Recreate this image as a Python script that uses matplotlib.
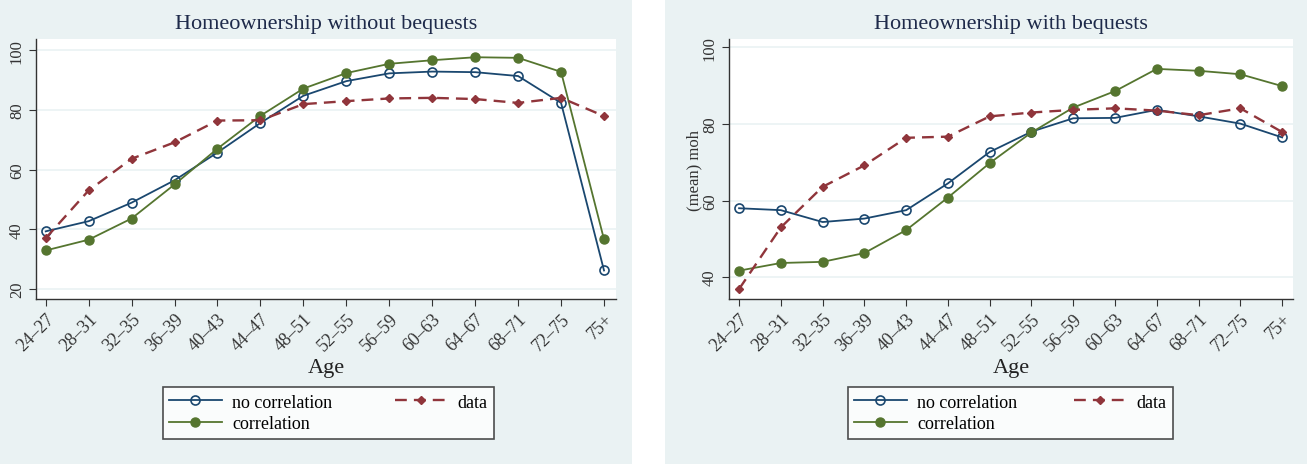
import matplotlib.pyplot as plt
from matplotlib.patches import Rectangle

ages = ["24\u201327", "28\u201331", "32\u201335", "36\u201339", "40\u201343", "44\u201347",
        "48\u201351", "52\u201355", "56\u201359", "60\u201363", "64\u201367", "68\u201371",
        "72\u201375", "75+"]

# without bequests
nocorr_nb = [39.3, 42.7, 48.9, 56.4, 65.7, 75.6, 84.7, 89.6, 92.2, 92.8, 92.6, 91.3, 82.3, 26.2]
corr_nb = [32.9, 36.5, 43.6, 55.0, 67.0, 78.0, 87.1, 92.3, 95.4, 96.6, 97.6, 97.4, 92.7, 36.6]
data_nb = [37.0, 53.0, 63.6, 69.1, 76.4, 76.5, 81.9, 82.9, 83.8, 84.0, 83.6, 82.3, 84.0, 77.9]

# with bequests
nocorr_b = [58.0, 57.5, 54.4, 55.3, 57.5, 64.5, 72.7, 78.0, 81.5, 81.6, 83.7, 82.0, 80.1, 76.5]
corr_b = [41.7, 43.7, 44.0, 46.3, 52.3, 60.8, 69.8, 77.8, 84.3, 88.6, 94.4, 93.9, 93.0, 89.9]
data_b = [36.9, 53.0, 63.6, 69.2, 76.4, 76.7, 82.0, 83.0, 83.7, 84.1, 83.5, 82.3, 84.1, 77.9]

BG = "#eaf2f3"
NAVY = "#1a476f"
MAROON = "#90353b"
GREEN = "#55752f"

plt.rcParams["font.family"] = ["Liberation Serif", "DejaVu Serif"]

fig = plt.figure(figsize=(13.07, 4.77), dpi=100)
fig.patch.set_facecolor("white")
fig.patches.append(Rectangle((0, 0.025), 0.4836, 0.975, transform=fig.transFigure,
                             facecolor=BG, edgecolor="none", zorder=-10))
fig.patches.append(Rectangle((0.5088, 0.025), 0.4912, 0.975, transform=fig.transFigure,
                             facecolor=BG, edgecolor="none", zorder=-10))

panels = [
    dict(rect=[0.02754, 0.3711, 0.4438, 0.545], title="Homeownership without bequests",
         nc=nocorr_nb, c=corr_nb, d=data_nb, ylim=(16.65, 103.7), yt=[20, 40, 60, 80, 100],
         ylabel="", xlim=(-0.226, 13.28), leg=[0.1247, 0.0713, 0.2533, 0.1216]),
    dict(rect=[0.5578, 0.3711, 0.4315, 0.545], title="Homeownership with bequests",
         nc=nocorr_b, c=corr_b, d=data_b, ylim=(34.3, 102.2), yt=[40, 60, 80, 100],
         ylabel="(mean) moh", xlim=(-0.24, 13.26), leg=[0.6488, 0.0713, 0.2487, 0.1216]),
]

x = list(range(len(ages)))
for p in panels:
    ax = fig.add_axes(p["rect"])
    ax.set_facecolor("white")
    ax.plot(x, p["nc"], color=NAVY, lw=1.3, marker="o", ms=6.5, mfc="none", mew=1.2,
            label="no correlation")
    ax.plot(x, p["c"], color=GREEN, lw=1.3, marker="o", ms=6.5, mfc=GREEN, mec=GREEN,
            label="correlation")
    ax.plot(x, p["d"], color=MAROON, lw=1.7, ls=(0, (5, 3)), marker="D", ms=4.5,
            mfc=MAROON, mec=MAROON, label="data")
    ax.set_xlim(*p["xlim"])
    ax.set_ylim(*p["ylim"])
    ax.set_yticks(p["yt"])
    ax.set_yticklabels([str(v) for v in p["yt"]], rotation=90, va="center", fontsize=12,
                       color="#333333")
    ax.set_xticks(x)
    ax.set_xticklabels(ages, rotation=45, ha="right", rotation_mode="anchor", fontsize=13,
                       color="#333333")
    ax.grid(axis="y", color=BG, lw=1.2)
    ax.set_axisbelow(True)
    for s in ["top", "right"]:
        ax.spines[s].set_visible(False)
    for s in ["left", "bottom"]:
        ax.spines[s].set_color("#333333")
        ax.spines[s].set_linewidth(1.0)
    ax.tick_params(color="#333333", length=5, pad=3)
    ax.set_xlabel("Age", fontsize=16, color="#222222", labelpad=3)
    if p["ylabel"]:
        ax.set_ylabel(p["ylabel"], fontsize=12, color="#333333", labelpad=0)
    ax.set_title(p["title"], fontsize=16, color="#1e2a4a", pad=8)

    h, l = ax.get_legend_handles_labels()
    leg = fig.legend(h, l, ncol=2, loc="center", bbox_to_anchor=p["leg"],
                     mode="expand", fontsize=13, frameon=True, fancybox=False,
                     edgecolor="#222222", handlelength=2.9, handletextpad=0.6,
                     columnspacing=1.5, borderaxespad=0, labelspacing=0.25,
                     borderpad=0.35)
    leg.get_frame().set_linewidth(1.2)

fig.savefig("out.png", dpi=100, facecolor=fig.get_facecolor())
